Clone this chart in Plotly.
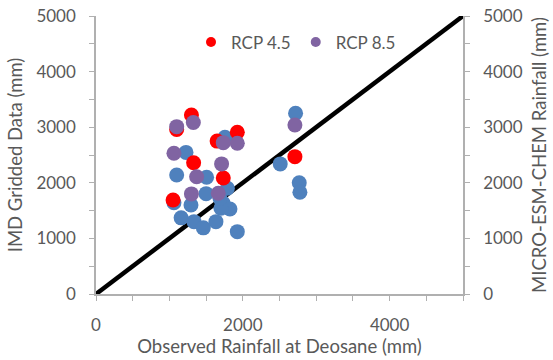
import plotly.graph_objects as go

# Observed rainfall at Deosane vs IMD gridded data (left axis)
obs_imd = [1757, 1226, 1099, 1507, 1790, 1500, 1062, 1294, 1734, 1825, 1702,
           1160, 1335, 1462, 1634, 1925, 2510, 2719, 2769, 2778, 1689]
imd = [2819, 2547, 2141, 2100, 1901, 1805, 1640, 1601, 1631, 1530, 1541,
       1370, 1301, 1190, 1301, 1121, 2340, 3250, 2002, 1830, 1720]

# Observed rainfall vs MICRO-ESM-CHEM projections (right axis)
obs_rcp45 = [1300, 1099, 1925, 1650, 1330, 1734, 1050, 2710]
rcp45 = [3220, 2960, 2910, 2750, 2360, 2085, 1690, 2470]

obs_rcp85 = [1099, 1326, 1734, 1925, 1062, 1711, 1371, 1300, 1666, 2710]
rcp85 = [3010, 3085, 2722, 2711, 2531, 2340, 2110, 1800, 1811, 3040]

# 1:1 reference line
one_to_one = [0, 5000]

BLUE = "#4F81BD"
RED = "#FF0000"
PURPLE = "#8064A2"
GREY_TXT = "#595959"
GREY_AX = "#B0B0B0"
FONT = "Lato, Open Sans, sans-serif"
MS = 15
TICK_SIZE = 17
TITLE_SIZE = 18.5

fig = go.Figure()

fig.add_trace(go.Scatter(x=one_to_one, y=one_to_one, mode="lines",
                         line=dict(color="black", width=4.5),
                         showlegend=False, hoverinfo="skip", cliponaxis=False))
fig.add_trace(go.Scatter(x=obs_imd, y=imd, mode="markers",
                         marker=dict(color=BLUE, size=MS),
                         showlegend=False, name="IMD"))
fig.add_trace(go.Scatter(x=obs_rcp45, y=rcp45, mode="markers", yaxis="y2",
                         marker=dict(color=RED, size=MS),
                         showlegend=False, name="RCP 4.5"))
fig.add_trace(go.Scatter(x=obs_rcp85, y=rcp85, mode="markers", yaxis="y2",
                         marker=dict(color=PURPLE, size=MS),
                         showlegend=False, name="RCP 8.5"))

# legend entries with small symbols
fig.add_trace(go.Scatter(x=[None], y=[None], mode="markers", yaxis="y2",
                         marker=dict(color=RED, size=10), name="RCP 4.5"))
fig.add_trace(go.Scatter(x=[None], y=[None], mode="markers", yaxis="y2",
                         marker=dict(color=PURPLE, size=10), name="RCP 8.5"))

minor_ticks = dict(dtick=500, ticks="outside", ticklen=5,
                   tickcolor=GREY_AX, tickwidth=1.2)

axis_common = dict(
    range=[0, 5000], showgrid=False, zeroline=False, automargin=False,
    showline=True, linecolor=GREY_AX, linewidth=1.5,
    ticks="outside", ticklen=5, tickcolor=GREY_AX, tickwidth=1.2,
    tickfont=dict(family=FONT, size=TICK_SIZE, color=GREY_TXT),
    ticklabelstandoff=10,
)
title_font = dict(family=FONT, size=TITLE_SIZE, color=GREY_TXT)

fig.update_layout(
    width=553, height=360,
    margin=dict(l=96, r=90, t=16, b=66, autoexpand=False),
    paper_bgcolor="white", plot_bgcolor="white",
    font=dict(family=FONT, size=TICK_SIZE, color=GREY_TXT),
    xaxis=dict(**axis_common, tickvals=[0, 2000, 4000], minor=minor_ticks,
               title=dict(text="Observed Rainfall at Deosane (mm)",
                          font=title_font, standoff=4)),
    yaxis=dict(**axis_common, dtick=1000, minor=minor_ticks,
               title=dict(text="IMD Gridded Data (mm)",
                          font=title_font, standoff=9)),
    yaxis2=dict(**axis_common, dtick=1000, overlaying="y", side="right",
                minor=minor_ticks,
                title=dict(text="MICRO-ESM-CHEM Rainfall (mm)",
                           font=title_font, standoff=11)),
    legend=dict(orientation="h", x=0.545, xanchor="center", y=0.905,
                yanchor="middle", bgcolor="rgba(0,0,0,0)",
                font=dict(family=FONT, size=TICK_SIZE, color=GREY_TXT),
                itemwidth=30, tracegroupgap=0),
    showlegend=True,
)

fig.write_html("out.html")
